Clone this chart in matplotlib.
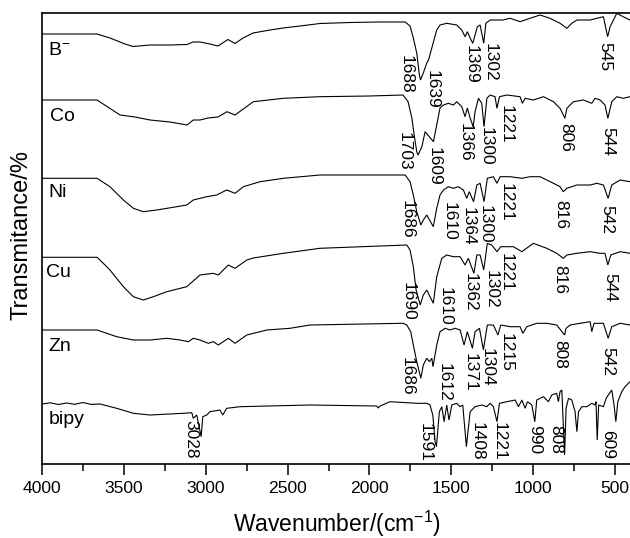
import matplotlib
matplotlib.use("Agg")
import matplotlib.pyplot as plt
from matplotlib.ticker import MultipleLocator

plt.rcParams['font.family'] = ['Liberation Sans', 'DejaVu Sans']
plt.rcParams['mathtext.fontset'] = 'custom'
plt.rcParams['mathtext.rm'] = 'Liberation Sans'
plt.rcParams['mathtext.it'] = 'Liberation Sans:italic'
plt.rcParams['mathtext.bf'] = 'Liberation Sans:bold'

# ---- FT-IR spectra: wavenumber (cm^-1) and stacked transmittance (a.u.) ----
b_wn = [4000, 3664, 3585, 3493, 3444, 3340, 3218, 3114, 3078, 3035, 2974, 2925, 2864, 2821, 2772,
        2711, 2607, 2528, 2424, 2302, 2118, 1935, 1782, 1752, 1734, 1711, 1695, 1688, 1671, 1650,
        1639, 1611, 1589, 1569, 1528, 1467, 1436, 1416, 1402, 1385, 1369, 1341, 1324, 1302, 1289,
        1263, 1184, 1141, 1080, 1019, 958, 897, 836, 794, 764, 733, 652, 571, 545, 530, 489, 450, 409, 400]
b_t = [430.3, 430.3, 426.3, 420.3, 417.8, 419.3, 419.3, 419.8, 422.3, 422.3, 420.3, 418.3, 424.8, 420.8, 426.3,
       431.3, 434.3, 436.3, 438.3, 440.8, 441.8, 442.3, 442.3, 438.3, 427.6, 411.3, 389.3, 384.3, 391.3, 401.3,
       404.3, 421.3, 434.3, 439.3, 441.0, 439.3, 434.3, 427.6, 432.6, 426.3, 421.0, 437.6, 439.3, 421.0, 441.0,
       444.3, 444.3, 446.0, 442.6, 446.0, 449.3, 446.0, 441.0, 436.0, 441.0, 444.3, 444.3, 447.6, 427.6, 437.6,
       451.0, 447.6, 444.3, 443.3]

co_wn = [4000, 3664, 3523, 3432, 3340, 3218, 3114, 3076, 3035, 2986, 2925, 2870, 2821, 2709, 2526,
         2302, 2000, 1795, 1764, 1741, 1727, 1711, 1703, 1680, 1660, 1609, 1569, 1548, 1518, 1487,
         1467, 1436, 1416, 1402, 1385, 1366, 1355, 1334, 1314, 1300, 1283, 1263, 1233, 1221, 1206,
         1161, 1080, 1066, 1049, 999, 937, 876, 836, 806, 794, 754, 693, 642, 622, 591,
         561, 544, 520, 489, 450, 409, 400]
co_t = [364.3, 364.3, 349.3, 347.3, 344.3, 342.3, 339.3, 344.3, 344.3, 346.3, 347.3, 352.6, 349.3, 362.6, 366.0,
        367.6, 368.3, 369.3, 362.6, 346.3, 329.3, 312.6, 309.3, 317.6, 332.6, 322.6, 356.3, 359.3, 361.0, 359.3,
        362.6, 357.6, 347.6, 356.3, 346.3, 337.6, 352.6, 366.0, 361.0, 337.6, 366.0, 369.3, 367.6, 356.0, 367.6,
        369.3, 367.6, 361.0, 366.0, 364.3, 367.6, 362.6, 356.0, 346.0, 356.0, 362.6, 364.3, 361.0, 366.0, 364.3,
        359.3, 346.0, 362.6, 367.6, 366.0, 367.6, 367.6]

ni_wn = [4000, 3664, 3585, 3503, 3442, 3381, 3299, 3177, 3116, 3076, 2994, 2933, 2872, 2821, 2770,
         2668, 2526, 2302, 1782, 1752, 1732, 1711, 1686, 1671, 1650, 1610, 1589, 1569, 1548, 1518,
         1487, 1457, 1426, 1406, 1390, 1364, 1344, 1324, 1300, 1280, 1243, 1221, 1202, 1141, 1069,
         1019, 958, 876, 836, 816, 794, 733, 652, 611, 571, 542, 520, 469, 409, 400]
ni_t = [286.0, 286.0, 277.6, 264.3, 256.0, 252.6, 254.3, 257.6, 259.3, 264.3, 267.6, 269.3, 274.3, 271.0, 277.6,
        282.6, 286.0, 289.3, 289.3, 282.6, 269.3, 252.6, 239.3, 244.3, 249.3, 237.6, 256.0, 269.3, 274.3, 277.6,
        276.0, 277.6, 274.3, 266.0, 272.6, 262.6, 279.3, 281.0, 262.6, 286.0, 287.6, 281.0, 287.6, 287.6, 286.0,
        287.6, 287.6, 281.0, 277.6, 272.6, 276.0, 279.3, 279.3, 281.0, 279.3, 266.0, 279.3, 284.3, 282.6, 282.6]

cu_wn = [4000, 3664, 3646, 3585, 3503, 3442, 3381, 3320, 3238, 3116, 3035, 2954, 2923, 2862, 2821,
         2749, 2709, 2526, 2302, 1772, 1752, 1732, 1715, 1690, 1671, 1650, 1610, 1589, 1558, 1528,
         1487, 1446, 1416, 1396, 1362, 1344, 1324, 1302, 1280, 1253, 1221, 1198, 1121, 1069, 999,
         917, 856, 816, 794, 733, 652, 591, 561, 544, 526, 469, 409, 400]
cu_t = [207.0, 207.0, 204.3, 194.3, 177.6, 167.6, 164.3, 167.6, 172.6, 177.6, 189.3, 191.0, 189.3, 199.3, 196.0,
        204.3, 206.3, 211.0, 216.0, 219.3, 214.3, 197.6, 174.3, 159.3, 169.3, 174.3, 161.0, 187.6, 206.0, 209.3,
        207.6, 207.6, 199.3, 206.0, 191.0, 209.3, 209.3, 194.3, 221.0, 219.3, 212.6, 217.6, 217.6, 212.6, 221.0,
        216.0, 211.0, 206.0, 209.3, 211.0, 212.6, 211.0, 211.0, 199.3, 209.3, 212.6, 211.0, 211.0]

zn_wn = [4000, 3664, 3544, 3442, 3340, 3238, 3157, 3106, 3076, 3035, 2984, 2954, 2923, 2862, 2821,
         2749, 2627, 2485, 2363, 1795, 1772, 1748, 1732, 1711, 1686, 1671, 1650, 1634, 1619, 1612,
         1589, 1569, 1538, 1508, 1477, 1446, 1422, 1402, 1371, 1355, 1328, 1304, 1280, 1243, 1215,
         1198, 1141, 1080, 1063, 1039, 978, 917, 856, 808, 799, 774, 713, 652, 642, 628,
         571, 542, 520, 469, 409, 400]
zn_t = [134.3, 134.3, 127.6, 124.3, 124.3, 126.0, 124.3, 122.6, 126.0, 124.3, 121.0, 122.6, 119.3, 126.0, 121.0,
        129.3, 134.3, 136.0, 139.3, 141.0, 139.3, 132.6, 119.3, 102.6, 86.0, 99.3, 106.0, 102.6, 106.0, 97.6,
        119.3, 132.6, 136.0, 134.3, 136.0, 134.3, 119.3, 132.6, 116.0, 132.6, 136.0, 114.3, 139.3, 139.3, 129.3,
        139.3, 137.6, 137.6, 131.0, 137.6, 141.0, 141.0, 139.3, 129.3, 136.0, 139.3, 141.0, 142.6, 132.6, 141.0,
        141.0, 126.0, 137.6, 141.0, 139.3, 139.3]

bipy_wn = [4000, 3950, 3900, 3850, 3800, 3750, 3700, 3646, 3544, 3442, 3340, 3137, 3085, 3076, 3055,
           3028, 3018, 2994, 2974, 2913, 2896, 2872, 2790, 2363, 1955, 1947, 1935, 1874, 1711, 1650,
           1630, 1613, 1599, 1591, 1573, 1558, 1544, 1528, 1514, 1497, 1467, 1446, 1430, 1408, 1385,
           1355, 1314, 1283, 1263, 1243, 1221, 1206, 1161, 1110, 1090, 1069, 1049, 1035, 1008, 990,
           978, 937, 907, 886, 856, 846, 836, 825, 808, 799, 784, 764, 744, 733, 723,
           703, 672, 642, 622, 616, 609, 600, 571, 554, 541, 520, 506, 495, 483, 459,
           439, 409, 400]
bipy_t = [60.3, 61.5, 59.8, 61.3, 60.0, 61.8, 59.9, 60.3, 56.0, 51.0, 49.3, 51.0, 51.6, 46.0, 49.3,
          27.6, 47.6, 49.3, 52.6, 54.3, 49.3, 56.0, 57.6, 59.3, 58.3, 56.3, 58.3, 62.6, 61.0, 61.0,
          59.3, 49.3, 22.6, 17.6, 52.6, 57.6, 42.6, 59.3, 44.3, 59.3, 61.0, 57.6, 59.3, 17.6, 52.6,
          57.6, 59.3, 57.6, 61.0, 57.6, 42.6, 61.0, 62.6, 64.3, 57.6, 64.3, 56.0, 62.6, 59.3, 42.6,
          64.3, 67.6, 62.6, 69.3, 71.0, 62.6, 72.6, 74.3, 9.3, 56.0, 66.0, 64.3, 52.6, 32.6, 52.6,
          57.6, 57.6, 61.0, 59.3, 62.6, 24.3, 59.3, 57.6, 66.0, 69.3, 74.3, 59.3, 42.6, 62.6, 72.6,
          77.6, 82.6, 84.3]

sample_names = ["B$^{-}$", "Co", "Ni", "Cu", "Zn", "bipy"]

# Band assignments (cm^-1) marked on each trace
b_bands = ["1688", "1639", "1369", "1302", "545"]
co_bands = ["1703", "1609", "1366", "1300", "1221", "806", "544"]
ni_bands = ["1686", "1610", "1364", "1300", "1221", "816", "542"]
cu_bands = ["1690", "1610", "1362", "1302", "1221", "816", "544"]
zn_bands = ["1686", "1612", "1371", "1304", "1215", "808", "542"]
bipy_bands = ["3028", "1591", "1408", "1221", "990", "808", "609"]

# ---- layout: where the band labels (top of rotated text) and sample names sit ----
b_band_pos = [(1776, 409.3), (1617, 394.3), (1379, 419.3), (1260, 421.3), (564, 422.3)]
co_band_pos = [(1786, 332.3), (1602, 317.3), (1413, 341.3), (1288, 337.3), (1165, 359.3), (802, 341.3), (545, 337.3)]
ni_band_pos = [(1770, 264.3), (1511, 262.3), (1398, 257.3), (1291, 259.3), (1168, 281.3), (832, 264.3), (551, 259.3)]
cu_band_pos = [(1761, 182.3), (1535, 177.3), (1382, 191.3), (1254, 194.3), (1165, 211.3), (836, 199.3), (533, 191.3)]
zn_band_pos = [(1770, 107.3), (1541, 101.3), (1382, 111.3), (1281, 116.3), (1165, 131.3), (839, 124.3), (545, 117.3)]
bipy_band_pos = [(3093, 44.3), (1657, 41.3), (1343, 42.3), (1205, 42.3), (991, 39.3), (863, 39.3), (545, 34.3)]
name_pos = [(3962, 409.3), (3950, 343.6), (3963, 267.0), (3973, 187.0), (3962, 113.3), (3962, 40.0)]

spectra = [(b_wn, b_t), (co_wn, co_t), (ni_wn, ni_t), (cu_wn, cu_t), (zn_wn, zn_t), (bipy_wn, bipy_t)]
bands = [(b_bands, b_band_pos), (co_bands, co_band_pos), (ni_bands, ni_band_pos),
         (cu_bands, cu_band_pos), (zn_bands, zn_band_pos), (bipy_bands, bipy_band_pos)]

fig = plt.figure(figsize=(6.3, 5.38), dpi=100)
ax = fig.add_axes([42 / 630, (538 - 464.3) / 538, 589.4 / 630, 451.6 / 538])

for (wn, t) in spectra:
    ax.plot(wn, t, color="black", lw=0.8, solid_joinstyle="miter")

for name, (x, y) in zip(sample_names, name_pos):
    ax.text(x, y, name, fontsize=14, ha="left", va="baseline")

for labels, positions in bands:
    for lab, (x, y) in zip(labels, positions):
        ax.text(x, y, lab, fontsize=12.5, rotation=-90, ha="center", va="top")

ax.set_xlim(4000, 400)
ax.set_ylim(0, 451.6)
ax.set_yticks([])
ax.xaxis.set_major_locator(MultipleLocator(500))
ax.xaxis.set_minor_locator(MultipleLocator(250))
ax.tick_params(axis="x", which="major", direction="out", length=8, width=1.1,
               labelsize=12.6, pad=4)
ax.tick_params(axis="x", which="minor", direction="out", length=5, width=1.1)
for s in ax.spines.values():
    s.set_linewidth(1.2)

ax.set_xlabel("Wavenumber/(cm$^{-1}$)", fontsize=16.5)
ax.xaxis.set_label_coords(0.5, (464.3 - 531.5) / 451.6)
ax.xaxis.label.set_va("baseline")
ax.set_ylabel("Transmitance/%", fontsize=17)
ax.yaxis.set_label_coords((21.5 - 42) / 589.4, (464.3 - 235) / 451.6)
ax.yaxis.label.set_va("center")

fig.savefig("out.png", dpi=100)
